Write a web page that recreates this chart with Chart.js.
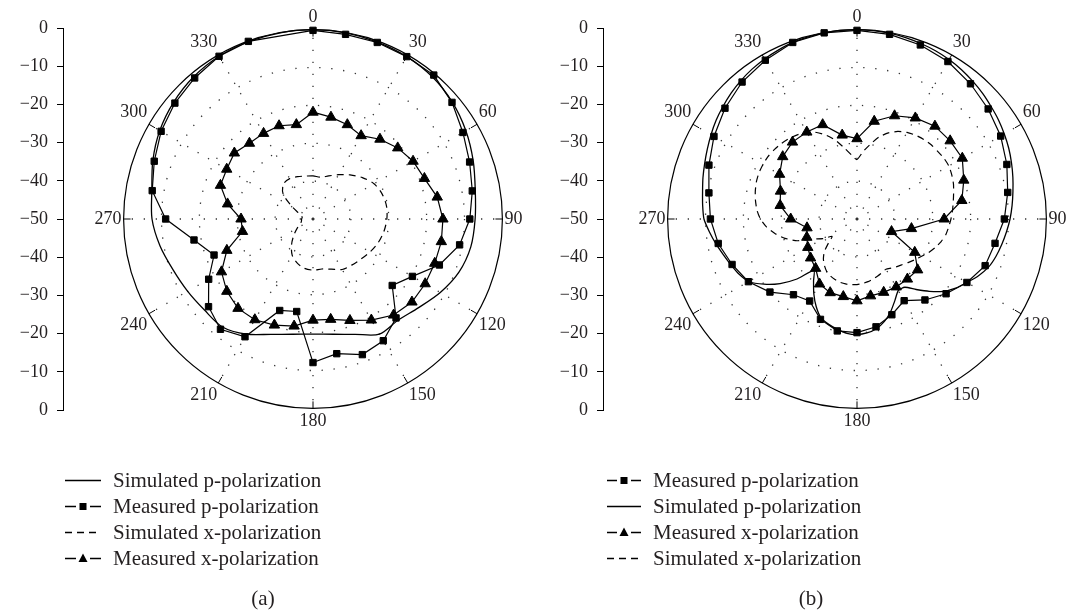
<!DOCTYPE html>
<html>
<head>
<meta charset="utf-8">
<script src="https://cdn.jsdelivr.net/npm/chart.js@4.4.1/dist/chart.umd.min.js"></script>
<style>
  body { margin: 0; width: 1078px; height: 612px; overflow: hidden; background: #fff; position: relative;
         font-family: "Liberation Serif", "DejaVu Serif", serif; color: #231f20; }
  canvas { position: absolute; }
  .legend { position: absolute; top: 467px; font-size: 21px; }
  .legend .row { display: flex; align-items: center; height: 26px; white-space: nowrap; }
  .legend canvas { position: static; margin-right: 12px; }
  .caption { position: absolute; top: 586px; width: 60px; text-align: center; font-size: 21px; }
</style>
</head>
<body>
<canvas id="axisA" width="75" height="440" style="left:0;top:0"></canvas>
<canvas id="polarA" width="500" height="426" style="left:63px;top:7px"></canvas>
<canvas id="axisB" width="75" height="440" style="left:540px;top:0"></canvas>
<canvas id="polarB" width="500" height="426" style="left:607px;top:7px"></canvas>
<div class="legend" id="legA" style="left:65px"></div>
<div class="legend" id="legB" style="left:607px"></div>
<div class="caption" style="left:233px">(a)</div>
<div class="caption" style="left:781px">(b)</div>
<script>
// angles in degrees, 5 degree steps
var angles = [0,5,10,15,20,25,30,35,40,45,50,55,60,65,70,75,80,85,90,95,100,105,110,115,
  120,125,130,135,140,145,150,155,160,165,170,175,180,185,190,195,200,205,210,215,220,225,230,235,
  240,245,250,255,260,265,270,275,280,285,290,295,300,305,310,315,320,325,330,335,340,345,350,355];
var angleTicks = [0, 30, 60, 90, 120, 150, 180, 210, 240, 270, 300, 330];
var yTickLabels = ['0','\u221210','\u221220','\u221230','\u221240','\u221250','\u221240','\u221230','\u221220','\u221210','0'];

// (a) values in dB, 10 degree steps
var simPA = [0, -0.1, -0.3, -0.5, -1.0, -2.0, -3.4, -5.0, -6.5, -7.2, -7.7, -9.0, -11.2, -13.6, -15.1, -14.9, -17.6, -19.1,
  -19.6, -19.1, -17.6, -14.9, -12.8, -12.6, -11.8, -10.7, -9.0, -7.5, -6.8, -5.0, -3.3, -2.0, -1.0, -0.4, -0.2, -0.1];
var measPA = [-0.2, -0.5, -0.4, -0.5, -0.4, -2.1, -4.3, -6.0, -7.3, -8.6, -10.7, -14.5, -19.7, -22.7, -15.9, -12.9, -11.9, -13.9,
  -12.1, -25.2, -24.3, -14.1, -12.0, -14.0, -18.2, -22.2, -18.1, -11.1, -6.9, -5.4, -3.7, -2.4, -1.4, -0.4, -0.1, null];
var simXA = [-38.6, -38.8, -37.9, -36.5, -34.8, -33.0, -31.4, -30.6, -30.3, -30.5, -31.0, -31.7, -32.6, -33.5, -34.1, -34.6, -35.9, -36.6,
  -36.5, -36.8, -37.7, -39.0, -41.2, -43.4, -45.2, -46.5, -46.9, -47.0, -47.1, -46.3, -43.8, -39.7, -37.9, -37.7, -38.1, -38.5];
var measXA = [-21.8, -22.7, -23.5, -24.6, -22.5, -20.8, -19.5, -18.7, -16.7, -15.7, -15.6, -15.8, -15.8, -15.9, -16.9, -19.2, -21.5, -23.1,
  -23.3, -21.3, -20.2, -19.3, -19.2, -20.3, -22.1, -25.8, -31.1, -31.0, -27.1, -24.0, -23.7, -22.9, -23.9, -23.9, -23.8, -24.7];

// (b) measured in 10 degree steps, simulated in 5 degree steps
var measPB = [-0.2, -0.5, -1.1, -2.0, -3.4, -4.8, -6.2, -7.9, -9.6, -11.1, -13.0, -14.0, -16.5, -19.3, -22.1, -25.1, -23.1, -21.1,
  -20.0, -20.0, -21.8, -25.0, -23.9, -20.0, -16.9, -14.9, -12.8, -11.3, -10.3, -8.4, -6.4, -4.5, -2.8, -1.6, -0.4, -0.1];
var measXB = [-28.8, -23.8, -21.0, -19.2, -18.0, -17.9, -17.9, -20.0, -21.9, -27.0, -35.4, -40.3, -32.4, -29.1, -29.3, -29.3, -29.4, -29.4,
  -28.4, -29.2, -29.3, -30.2, -33.0, -34.0, -35.0, -35.9, -36.6, -32.5, -29.4, -28.5, -26.4, -24.4, -23.5, -23.5, -23.5, -27.5];
var simPB = [0, -0.1, -0.2, -0.4, -0.7, -1.0, -1.4, -1.9, -2.5, -3.1, -3.8, -4.4, -5.1, -5.8, -6.6, -7.4, -8.2, -8.9,
  -9.6, -10.4, -11.2, -12.0, -13.0, -14.6, -16.5, -18.2, -20.3, -23.0, -25.7, -28.0, -28.2, -26.3, -24.0, -22.0, -20.6, -19.8,
  -19.5, -19.7, -20.4, -21.2, -22.2, -24.5, -27.2, -30.0, -32.3, -27.6, -23.5, -20.0, -17.0, -15.6, -14.6, -13.5, -12.2, -10.9,
  -9.6, -9.1, -8.6, -7.9, -7.2, -6.4, -5.5, -4.6, -3.8, -3.0, -2.3, -1.7, -1.2, -0.8, -0.4, -0.2, -0.1, 0];
var simXB = [-34.3, -32.2, -30.0, -27.6, -25.8, -24.5, -23.6, -23.0, -22.6, -22.3, -22.2, -22.0, -22.0, -22.4, -22.9, -23.6, -24.2, -24.7,
  -25.2, -25.7, -26.2, -27.0, -28.0, -29.1, -30.3, -31.3, -32.2, -33.0, -33.6, -34.2, -34.7, -34.4, -34.0, -33.6, -33.2, -32.9,
  -32.7, -32.6, -32.6, -32.7, -33.0, -33.4, -34.0, -35.0, -36.2, -37.8, -40.2, -42.0, -39.6, -37.5, -33.2, -30.3, -28.0, -26.0,
  -24.5, -23.5, -22.8, -22.2, -21.7, -21.4, -21.3, -21.3, -21.5, -21.8, -22.2, -22.8, -23.5, -24.8, -26.5, -28.6, -31.0, -33.0];

var INK = '#231f20';
Chart.defaults.font.family = '"Liberation Serif", "DejaVu Serif", serif';
Chart.defaults.color = INK;

function every10(arr) {
  return angles.map(function (a, i) { return i % 2 === 0 ? arr[i / 2] : null; });
}

var styles = {
  simP: { borderColor: '#000', borderWidth: 1.3, pointRadius: 0, tension: 0.3 },
  measP: { borderColor: '#000', borderWidth: 1.2, pointStyle: 'rect', pointRadius: 4.5,
           pointBackgroundColor: '#000', pointBorderColor: '#000', pointBorderWidth: 1, tension: 0 },
  simX: { borderColor: '#000', borderWidth: 1.2, borderDash: [7, 5], pointRadius: 0, tension: 0.3 },
  measX: { borderColor: '#000', borderWidth: 1.2, pointStyle: 'triangle', pointRadius: 6,
           pointBackgroundColor: '#000', pointBorderColor: '#000', pointBorderWidth: 1, tension: 0 }
};

function ds(label, data, kind, extra) {
  return Object.assign({ label: label, data: data, kind: kind, fill: false, spanGaps: true,
    backgroundColor: 'rgba(0,0,0,0)' }, styles[kind], extra || {});
}

var rimTicks = {
  id: 'rimTicks',
  afterDatasetsDraw: function (chart) {
    var s = chart.scales.r, ctx = chart.ctx;
    ctx.save();
    ctx.strokeStyle = '#000';
    ctx.lineWidth = 1;
    chart.data.labels.forEach(function (lab, i) {
      if (lab % 30 !== 0) return;
      var a = s.getPointPosition(i, s.drawingArea);
      var b = s.getPointPosition(i, s.drawingArea - 7);
      ctx.beginPath(); ctx.moveTo(a.x, a.y); ctx.lineTo(b.x, b.y); ctx.stroke();
    });
    ctx.restore();
  }
};

function polar(id, datasets) {
  return new Chart(document.getElementById(id), {
    type: 'radar',
    data: { labels: angles, datasets: datasets },
    options: {
      responsive: false,
      animation: false,
      events: [],
      layout: { padding: 0 },
      plugins: { legend: { display: false }, tooltip: { enabled: false } },
      scales: {
        r: {
          min: -50, max: 0,
          ticks: { display: false, stepSize: 10 },
          grid: { circular: true,
                  lineWidth: function (c) { return c.tick && c.tick.value === 0 ? 1.2 : 1.3; },
                  color: function (c) { return c.tick && c.tick.value === 0 ? '#000' : '#333'; } },
          border: { dash: function (c) { return c.tick && c.tick.value === 0 ? [] : [1.3, 10.7]; } },
          angleLines: { color: '#333', borderDash: [1.3, 10.7],
                        lineWidth: function (c) { return c.index % 6 === 0 ? 1.3 : 0; } },
          pointLabels: { padding: 2, color: INK, font: { size: 18 },
                         callback: function (lab) { return angleTicks.indexOf(lab) >= 0 ? String(lab) : ''; } }
        }
      }
    },
    plugins: [rimTicks]
  });
}

function axis(id) {
  return new Chart(document.getElementById(id), {
    type: 'scatter',
    data: { datasets: [] },
    options: {
      responsive: false,
      animation: false,
      events: [],
      layout: { padding: { top: 28, bottom: 30, left: 0, right: 0 }, autoPadding: false },
      plugins: { legend: { display: false }, tooltip: { enabled: false } },
      scales: {
        x: { display: false },
        y: {
          min: -50, max: 50,
          afterFit: function (s) { s.width = 63; },
          ticks: { stepSize: 10, padding: 9, color: INK, font: { size: 18 },
                   callback: function (v, i) { return yTickLabels[i]; } },
          grid: { drawOnChartArea: false, drawTicks: true, tickLength: 6, color: '#000' },
          border: { display: true, color: '#000', width: 1 }
        }
      }
    }
  });
}

var dsA = [
  ds('Simulated p-polarization', every10(simPA), 'simP'),
  ds('Measured p-polarization', every10(measPA), 'measP'),
  ds('Simulated x-polarization', every10(simXA), 'simX'),
  ds('Measured x-polarization', every10(measXA), 'measX', {
    segment: { borderColor: function (c) { return c.p0DataIndex === 70 ? 'rgba(0,0,0,0)' : undefined; } }
  })
];
var dsB = [
  ds('Measured p-polarization', every10(measPB), 'measP'),
  ds('Simulated p-polarization', simPB, 'simP', { tension: 0.2 }),
  ds('Measured x-polarization', every10(measXB), 'measX'),
  ds('Simulated x-polarization', simXB, 'simX', { tension: 0.2 })
];

axis('axisA');
axis('axisB');
polar('polarA', dsA);
polar('polarB', dsB);

// legends built from the datasets
function sample(kind, w) {
  var c = document.createElement('canvas');
  c.width = w; c.height = 14;
  var g = c.getContext('2d'), y = 7.5, m = w / 2;
  g.strokeStyle = '#000'; g.fillStyle = '#000'; g.lineWidth = 1.3;
  g.beginPath();
  if (kind === 'simP') { g.moveTo(0, y); g.lineTo(w, y); }
  else if (kind === 'simX') { g.setLineDash([7, 5]); g.moveTo(0, y); g.lineTo(w, y); }
  else { g.moveTo(0, y); g.lineTo(m - 7, y); g.moveTo(m + 7, y); g.lineTo(w, y); }
  g.stroke();
  if (kind === 'measP') g.fillRect(m - 3.5, y - 3.5, 7, 7);
  if (kind === 'measX') { g.beginPath(); g.moveTo(m, y - 5); g.lineTo(m + 4.5, y + 3.5); g.lineTo(m - 4.5, y + 3.5); g.closePath(); g.fill(); }
  return c;
}
function legend(id, datasets, w) {
  var box = document.getElementById(id);
  datasets.forEach(function (d) {
    var row = document.createElement('div');
    row.className = 'row';
    row.appendChild(sample(d.kind, w));
    var t = document.createElement('span');
    t.textContent = d.label;
    row.appendChild(t);
    box.appendChild(row);
  });
}
legend('legA', dsA, 36);
legend('legB', dsB, 34);
</script>
</body>
</html>
